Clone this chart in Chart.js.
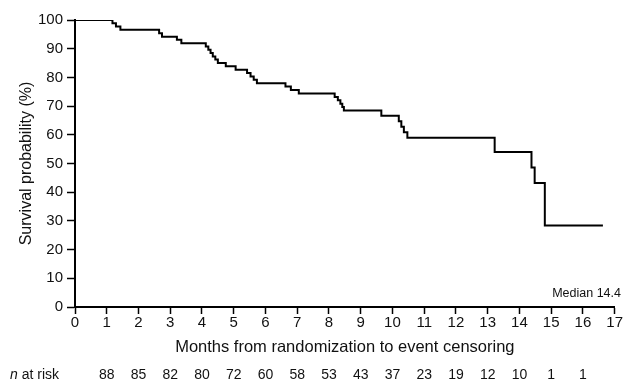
<!DOCTYPE html>
<html>
<head>
<meta charset="utf-8">
<script src="https://cdn.jsdelivr.net/npm/chart.js@4/dist/chart.umd.min.js"></script>
<style>
  html, body { margin: 0; padding: 0; background: #ffffff; }
  #wrap { width: 623px; height: 383px; position: relative; }
</style>
</head>
<body>
<div id="wrap"><canvas id="c" width="623" height="383"></canvas></div>
<script>
// Kaplan-Meier step points (time in months, survival %)
const times = [0, 1.18, 1.29, 1.43, 2.65, 2.74, 3.21, 3.35, 4.12, 4.2, 4.27, 4.34, 4.42, 4.5, 4.75, 5.06, 5.42, 5.53, 5.63, 5.73, 6.63, 6.8, 7.05, 8.18, 8.28, 8.36, 8.42, 8.47, 9.65, 10.2, 10.28, 10.36, 10.47, 13.22, 14.38, 14.48, 14.8, 16.63];
const survival = [100, 98.9, 97.7, 96.6, 95.4, 94.2, 93.1, 91.9, 90.8, 89.6, 88.5, 87.3, 86.2, 85.0, 83.9, 82.7, 81.5, 80.3, 79.2, 78.0, 76.8, 75.6, 74.4, 73.2, 72.0, 70.8, 69.7, 68.5, 66.6, 64.7, 62.8, 60.9, 59.0, 54.0, 48.6, 43.2, 28.4, 28.4];

// Axis ticks
const xTickLabels = ["0","1","2","3","4","5","6","7","8","9","10","11","12","13","14","15","16","17"];
const yTickLabels = ["0","10","20","30","40","50","60","70","80","90","100"];

// Number at risk at months 1..16
const riskMonths = [1,2,3,4,5,6,7,8,9,10,11,12,13,14,15,16];
const nAtRisk = [88,85,82,80,72,60,58,53,43,37,23,19,12,10,1,1];

const medianText = "Median 14.4";

const FONT = "'Liberation Sans', Arial, Helvetica, sans-serif";

const points = times.map((t, i) => ({ x: t, y: survival[i] }));

const extrasPlugin = {
  id: 'extras',
  afterDraw(chart) {
    const ctx = chart.ctx;
    const xs = chart.scales.x;
    const area = chart.chartArea;
    ctx.save();
    ctx.fillStyle = '#111';
    // Median label
    ctx.font = "12.5px " + FONT;
    ctx.textAlign = 'right';
    ctx.textBaseline = 'middle';
    ctx.fillText(medianText, 621, area.bottom - 13);
    // n at risk row
    const yRow = 375;
    ctx.font = "14px " + FONT;
    ctx.textAlign = 'center';
    riskMonths.forEach((m, i) => {
      ctx.fillText(String(nAtRisk[i]), xs.getPixelForValue(m), yRow);
    });
    ctx.textAlign = 'left';
    ctx.font = "italic 14px " + FONT;
    ctx.fillText("n", 10, yRow);
    const w = ctx.measureText("n").width;
    ctx.font = "14px " + FONT;
    ctx.fillText(" at risk", 10 + w, yRow);
    ctx.restore();
  }
};

new Chart(document.getElementById('c'), {
  type: 'line',
  data: {
    datasets: [{
      data: points,
      borderColor: '#000',
      borderWidth: 2,
      pointRadius: 0,
      stepped: 'before',
      fill: false,
      tension: 0
    }]
  },
  options: {
    responsive: false,
    animation: false,
    devicePixelRatio: 1,
    layout: { padding: { left: 0, right: 8, top: 20, bottom: 0 } },
    plugins: { legend: { display: false }, tooltip: { enabled: false } },
    scales: {
      x: {
        type: 'linear',
        min: 0, max: 17,
        afterFit(scale) { scale.height = 76; },
        afterBuildTicks(scale) { scale.ticks = xTickLabels.map((_, i) => ({ value: i })); },
        ticks: {
          stepSize: 1,
          autoSkip: false,
          maxRotation: 0,
          color: '#111',
          padding: 0,
          font: { family: FONT, size: 15 },
          callback: (v, i) => xTickLabels[i]
        },
        grid: { drawOnChartArea: false, drawTicks: true, tickLength: 7, tickColor: '#000', tickWidth: 1.5, color: '#000' },
        border: { display: true, color: '#000', width: 2 },
        title: {
          display: true,
          text: 'Months from randomization to event censoring',
          color: '#111',
          font: { family: FONT, size: 16.5 },
          padding: { top: 0, bottom: 26 }
        }
      },
      y: {
        type: 'linear',
        min: 0, max: 100,
        afterFit(scale) { scale.width = 75; },
        afterBuildTicks(scale) { scale.ticks = yTickLabels.map(l => ({ value: Number(l) })); },
        ticks: {
          stepSize: 10,
          color: '#111',
          padding: 4,
          font: { family: FONT, size: 15 },
          callback: (v) => yTickLabels[yTickLabels.indexOf(String(v))]
        },
        grid: { drawOnChartArea: false, drawTicks: true, tickLength: 8, tickColor: '#000', tickWidth: 1.5, color: '#000' },
        border: { display: true, color: '#000', width: 2 },
        title: {
          display: true,
          text: 'Survival probability (%)',
          color: '#111',
          font: { family: FONT, size: 16 },
          padding: { top: 17, bottom: 0 }
        }
      }
    }
  },
  plugins: [extrasPlugin]
});
</script>
</body>
</html>
